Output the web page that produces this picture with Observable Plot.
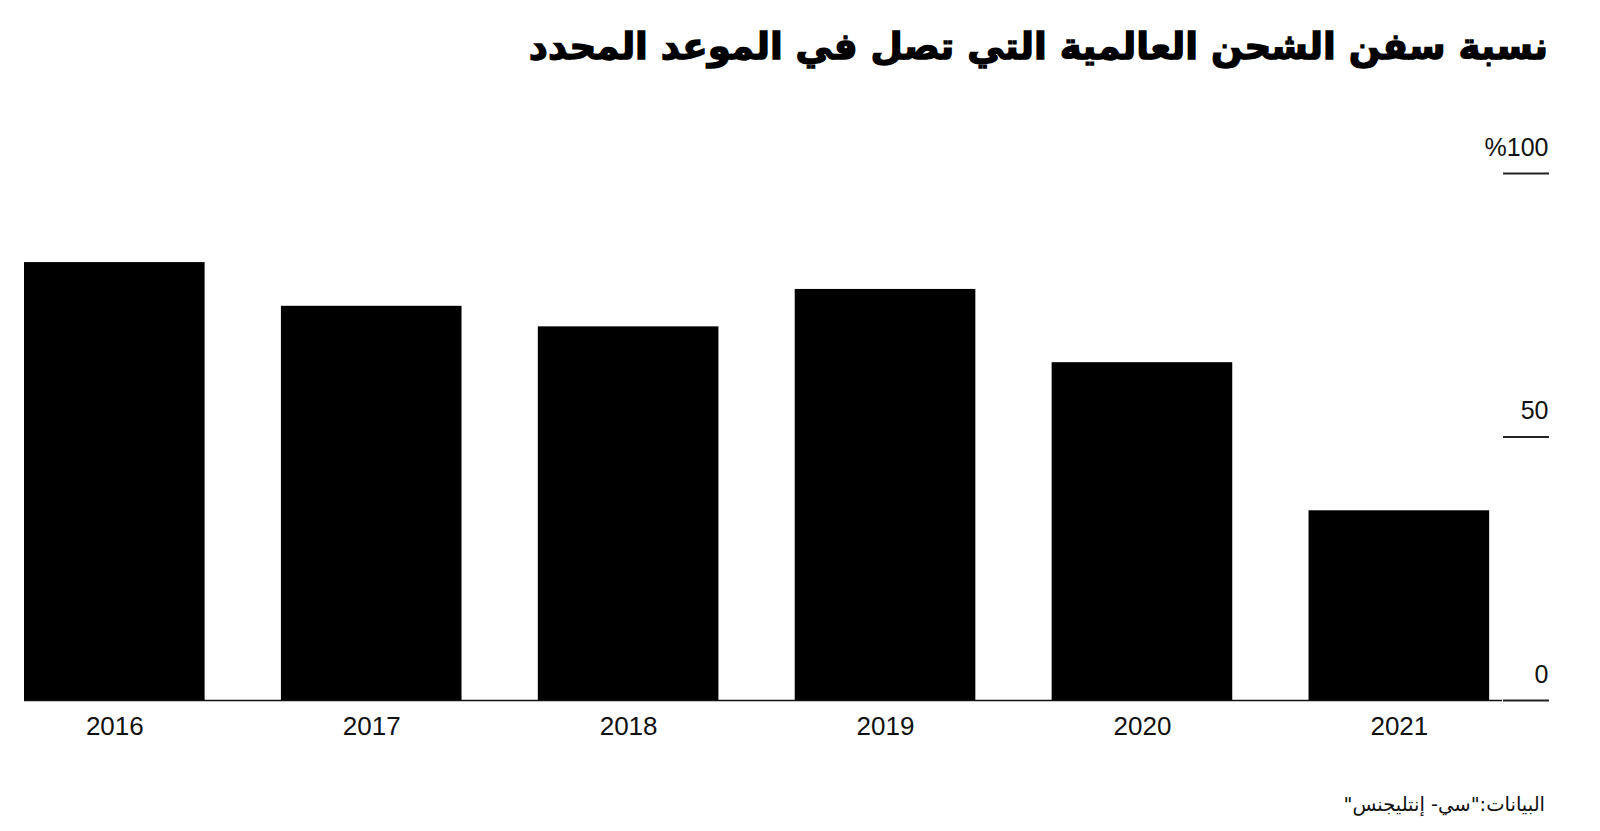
<!DOCTYPE html>
<html>
<head>
<meta charset="utf-8">
<script src="https://cdn.jsdelivr.net/npm/d3@7"></script>
<script src="https://cdn.jsdelivr.net/npm/@observablehq/plot@0.6"></script>
<style>
  html, body { margin: 0; padding: 0; background: #fff; }
  body { width: 1600px; height: 831px; position: relative; overflow: hidden; }
  #title { position: absolute; top: 24px; right: 52px; font-family: "DejaVu Sans", sans-serif; font-weight: bold; font-size: 37.2px; color: #000; direction: rtl; white-space: nowrap; line-height: 1.2; -webkit-text-stroke: 1.4px #000; }
  #chart { position: absolute; top: 110px; left: 0; }
  #caption { position: absolute; top: 793px; right: 55px; font-family: "DejaVu Sans", sans-serif; font-size: 19.5px; color: #111; direction: rtl; white-space: nowrap; }
</style>
</head>
<body>
<div id="title">نسبة سفن الشحن العالمية التي تصل في الموعد المحدد</div>
<div id="chart"></div>
<div id="caption">البيانات:"سي- إنتليجنس"</div>
<script>
const years = ["2016", "2017", "2018", "2019", "2020", "2021"];
const shares = [83.1, 74.8, 70.9, 78.0, 64.1, 36.0];
const yTicks = [0, 50, 100];
const yTickLabels = ["0", "50", "%100"];

const data = years.map((year, i) => ({year, share: shares[i]}));

const chart = Plot.plot({
  width: 1600,
  height: 650,
  marginLeft: 24,
  marginRight: 98,
  marginTop: 63,
  marginBottom: 60,
  style: {fontFamily: "'Liberation Sans', Arial, sans-serif", background: "#fff", color: "#111"},
  x: {domain: years, paddingInner: 0.297, paddingOuter: 0.025, align: 0, round: false, label: null},
  y: {domain: [0, 100], label: null},
  marks: [
    Plot.barY(data, {x: "year", y: "share", fill: "#000"}),
    Plot.ruleY([0], {stroke: "#111", strokeWidth: 1.5}),
    Plot.axisY({
      anchor: "right",
      ticks: yTicks,
      tickSize: 46,
      stroke: "#222",
      strokeWidth: 2,
      strokeOpacity: 1,
      tickFormat: () => "",
      label: null
    }),
    Plot.axisY({
      anchor: "right",
      ticks: yTicks,
      tickSize: 0,
      tickPadding: 46,
      textAnchor: "end",
      dy: -26,
      fontSize: 25,
      fill: "#111",
      tickFormat: d => yTickLabels[yTicks.indexOf(d)],
      label: null
    }),
    Plot.axisX({
      tickSize: 0,
      tickPadding: 16,
      fontSize: 26,
      fill: "#111",
      label: null
    })
  ]
});
document.getElementById("chart").appendChild(chart);
</script>
</body>
</html>
